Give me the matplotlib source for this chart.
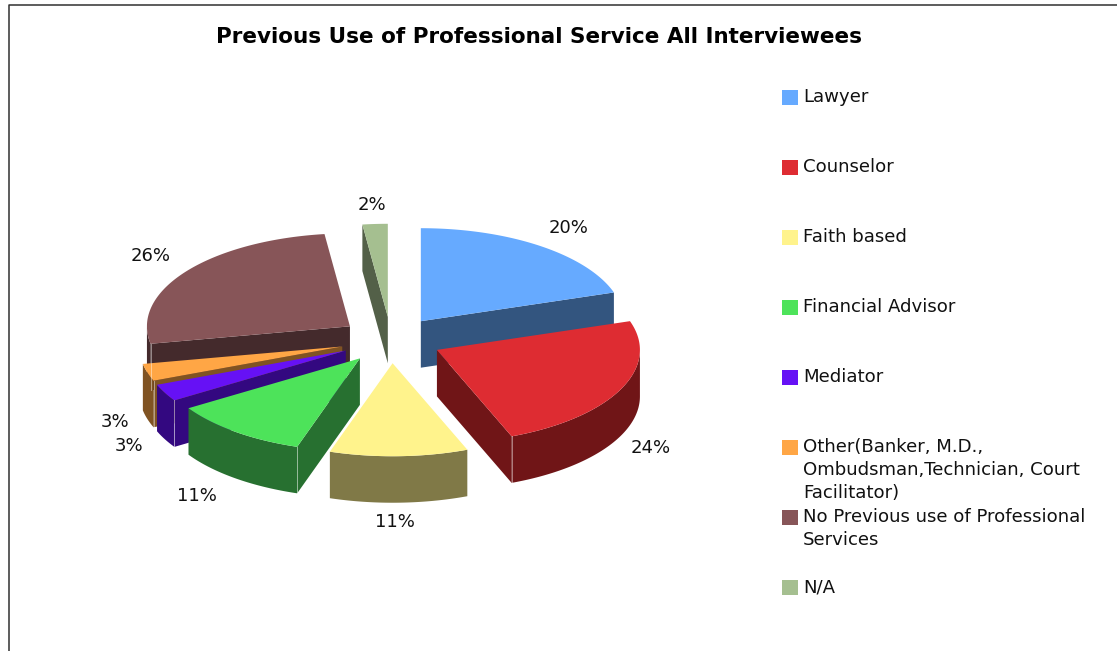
"""Exploded 3D pie of previous use of professional services, drawn in pixel coordinates."""

import numpy as np
import matplotlib
matplotlib.use('Agg')
import matplotlib.pyplot as plt
from matplotlib.patches import Polygon, Rectangle

WIDTH, HEIGHT = 1117, 651

TITLE = 'Previous Use of Professional Service All Interviewees'
categories = ['Lawyer', 'Counselor', 'Faith based', 'Financial Advisor', 'Mediator',
              'Other(Banker, M.D.,\nOmbudsman,Technician, Court\nFacilitator)',
              'No Previous use of Professional\nServices', 'N/A']
shares = [20, 24, 11, 11, 3, 3, 26, 2]
top_colors = ['#66AAFF', '#DE2C32', '#FFF38C', '#4DE35A',
              '#6611F5', '#FFA645', '#875558', '#A5BF90']
side_colors = ['#33557F', '#701517', '#807947', '#277030',
               '#330880', '#805322', '#442A2C', '#536048']

# label anchors for the percentages, same order as categories
label_pos = [(569, 228), (651, 448), (395, 522), (197, 496),
             (129, 446), (115, 422), (151, 256), (372, 205)]
legend_y = [97, 167, 237, 307, 377, 447, 517, 587]

# pie projection, in pixels
CX, CY = 391, 340
RX, RY = 203, 93
DEPTH = 46.5
EXPLODE = 0.25


def rim_point(theta, x0, y0):
    return x0 + RX * np.sin(theta), y0 - RY * np.cos(theta)


def draw_slice(ax, start, end, top, side):
    """Draw one slice; angles run clockwise from 12 o'clock."""
    mid = (start + end) / 2
    x0 = CX + EXPLODE * RX * np.sin(mid)
    y0 = CY - EXPLODE * RY * np.cos(mid)
    kw = dict(closed=True, edgecolor='none', linewidth=0)

    # cut faces that look toward the viewer
    cut_faces = [theta for theta, visible in ((start, np.sin(start) < 0), (end, np.sin(end) > 0))
                 if visible]
    for theta in cut_faces:
        x1, y1 = rim_point(theta, x0, y0)
        ax.add_patch(Polygon([(x0, y0), (x1, y1), (x1, y1 + DEPTH), (x0, y0 + DEPTH)],
                             facecolor=side, **kw))

    # outer wall, only the part on the front half
    lo, hi = max(start, np.pi / 2), min(end, 3 * np.pi / 2)
    if hi > lo:
        t = np.linspace(lo, hi, 80)
        xs, ys = rim_point(t, x0, y0)
        pts = np.r_[np.c_[xs, ys], np.c_[xs, ys + DEPTH][::-1]]
        ax.add_patch(Polygon(pts, facecolor=side, **kw))

    t = np.linspace(start, end, 120)
    xs, ys = rim_point(t, x0, y0)
    ax.add_patch(Polygon(np.r_[[(x0, y0)], np.c_[xs, ys]], facecolor=top, **kw))

    # pale seam where a cut face meets the outer wall
    for theta in cut_faces:
        if np.pi / 2 < theta < 3 * np.pi / 2:
            x1, y1 = rim_point(theta, x0, y0)
            ax.plot([x1, x1], [y1, y1 + DEPTH], color='white', lw=0.7, alpha=0.45)


def main():
    plt.rcParams['font.family'] = ['DejaVu Sans']
    fig = plt.figure(figsize=(WIDTH / 100, HEIGHT / 100), dpi=100)
    ax = fig.add_axes([0, 0, 1, 1])
    ax.set_xlim(0, WIDTH)
    ax.set_ylim(HEIGHT, 0)
    ax.axis('off')

    # chart frame runs off the right and bottom of the canvas
    ax.plot([8.5, 8.5, WIDTH], [HEIGHT, 4.5, 4.5], color='#303030', lw=1.1)

    edges = np.cumsum([0] + shares) / sum(shares) * 2 * np.pi
    mids = (edges[:-1] + edges[1:]) / 2
    # back-to-front: slices whose apex sits higher are further away
    for i in np.argsort(-np.cos(mids)):
        draw_slice(ax, edges[i], edges[i + 1], top_colors[i], side_colors[i])

    for share, (x, y) in zip(shares, label_pos):
        ax.text(x, y, f'{share}%', ha='center', va='center', fontsize=13, color='#111111')

    ax.text(538.5, 37, TITLE, ha='center', va='center', fontsize=15.5, fontweight='bold', color='black')

    for name, color, y in zip(categories, top_colors, legend_y):
        ax.add_patch(Rectangle((782, y - 7.5), 16, 15, facecolor=color, edgecolor='none'))
        ax.text(803, y - 8.5, name, ha='left', va='top', fontsize=13.1, linespacing=1.33, color='#111111')

    fig.savefig('out.png', dpi=100)
    plt.close(fig)


if __name__ == '__main__':
    main()
